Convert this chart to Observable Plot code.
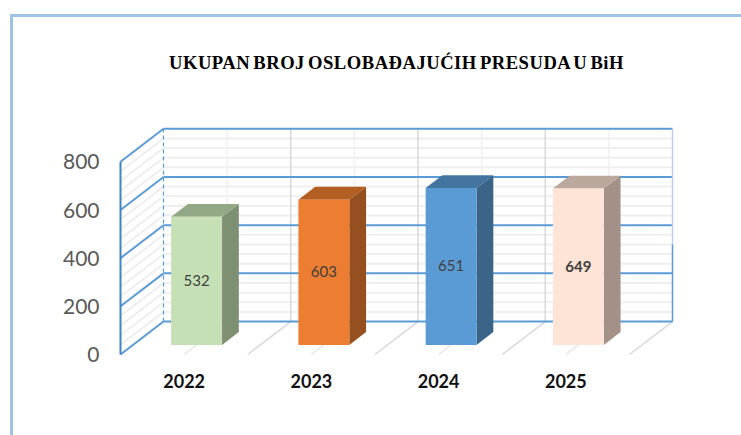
<!DOCTYPE html>
<html>
<head>
<meta charset="utf-8">
<script src="https://cdn.jsdelivr.net/npm/d3@7"></script>
<script src="https://cdn.jsdelivr.net/npm/@observablehq/plot@0.6"></script>
<style>
html,body{margin:0;padding:0;background:#fff;overflow:hidden}
#wrap{position:relative;width:741px;height:435px}
#frame{position:absolute;left:10px;top:14px;right:0;bottom:0;border-left:3.5px solid #9dc3e6;border-top:3.5px solid #9dc3e6;box-sizing:border-box}
#wrap svg{position:absolute;left:0;top:0}
.chart-title text{word-spacing:-2px;letter-spacing:.5px}
</style>
</head>
<body>
<div id="wrap"><div id="frame"></div></div>
<script>
const title = "UKUPAN BROJ OSLOBAĐAJUĆIH PRESUDA U BiH";
const years = ["2022", "2023", "2024", "2025"];
const values = [532, 603, 651, 649];
const yTicks = [0, 200, 400, 600, 800];
const minorTicks = d3.range(0, 801, 40).filter(v => v % 200 !== 0);
const frontColors = ["#c5e0b4", "#ed7d31", "#5b9bd5", "#fde4d6"];
const sideColors = ["#7f8f72", "#96501f", "#3a6488", "#a39087"];
const topColors = ["#93a885", "#b35e22", "#4475a1", "#bba89d"];
const labelWeights = ["normal", "normal", "normal", "bold"];

// oblique depth of the chart box, in x-category and y-value units
const depthX = 0.338, depthY = 136.8;
const zFront = 0.29, zBack = 0.68, barHalf = 0.2;
const px = (c, z) => c + z * depthX;
const py = (v, z) => v + z * depthY;
const slots = d3.range(years.length + 1);
const halves = d3.range(0.5, years.length, 1);
const yMax = 800;

const seg = (c1, v1, z1, c2, v2, z2) => ({x1: px(c1, z1), y1: py(v1, z1), x2: px(c2, z2), y2: py(v2, z2)});
const link = (data, options) => Plot.link(data, {x1: "x1", y1: "y1", x2: "x2", y2: "y2", ...options});

const nC = years.length;
const wallMinor = minorTicks.map(v => seg(0, v, 1, nC, v, 1));
const wallMajor = yTicks.map(v => seg(0, v, 1, nC, v, 1));
const sideMinor = minorTicks.map(v => seg(0, v, 0, 0, v, 1));
const sideMajor = yTicks.map(v => seg(0, v, 0, 0, v, 1));
const vertMajor = slots.slice(1, -1).map(c => seg(c, 0, 1, c, yMax, 1));
const vertMinor = halves.map(c => seg(c, 0, 1, c, yMax, 1));
const floorMajor = slots.slice(1).map(c => seg(c, 0, 0, c, 0, 1));
const floorMinor = halves.map(c => seg(c, 0, 0, c, 0, 1));

function faces(i) {
  const v = values[i], a = i + 0.5 - barHalf, b = i + 0.5 + barHalf;
  const poly = (id, fill, pts) => pts.map(([c, w, z]) => ({id, fill, x: px(c, z), y: py(w, z)}));
  return [
    ...poly("side" + i, sideColors[i], [[b, 0, zFront], [b, 0, zBack], [b, v, zBack], [b, v, zFront]]),
    ...poly("top" + i, topColors[i], [[a, v, zFront], [b, v, zFront], [b, v, zBack], [a, v, zBack]]),
    ...poly("front" + i, frontColors[i], [[a, 0, zFront], [b, 0, zFront], [b, v, zFront], [a, v, zFront]])
  ];
}
const barPolys = years.flatMap((_, i) => faces(i));
const labels = values.map((v, i) => ({x: px(i + 0.5, zFront), y: py(v / 2, zFront), t: String(v), w: labelWeights[i]}));
const cats = years.map((t, i) => ({x: i + 0.5, t}));
const blue = "#5b9bd5";

const chart = Plot.plot({
  width: 741,
  height: 435,
  marginTop: 128.3,
  marginBottom: 81,
  marginLeft: 120,
  marginRight: 69,
  style: {background: "transparent", overflow: "visible"},
  x: {domain: [0, nC + depthX], axis: null},
  y: {domain: [0, yMax + depthY], axis: null},
  marks: [
    link(wallMinor, {stroke: "#efefef", strokeWidth: 2}),
    link(sideMinor, {stroke: "#efefef", strokeWidth: 2}),
    link(vertMinor, {stroke: "#f0f0f0", strokeWidth: 1.5}),
    link(vertMajor, {stroke: "#d9d9d9", strokeWidth: 1.5}),
    link(floorMinor, {stroke: "#e6e6e6", strokeWidth: 1.5}),
    link(floorMajor, {stroke: "#d9d9d9", strokeWidth: 1.5}),
    link(wallMajor, {stroke: blue, strokeWidth: 2}),
    link(sideMajor, {stroke: blue, strokeWidth: 2}),
    link([seg(0, 0, 1, 0, yMax, 1)], {stroke: blue, strokeWidth: 1.2, strokeDasharray: "4,3"}),
    link([seg(0, 0, 0, 0, yMax, 0)], {stroke: "#3f85c6", strokeWidth: 2}),
    link([seg(nC, 320, 1, nC, yMax, 1)], {stroke: "#bdd0e4", strokeWidth: 1.5}),
    link([seg(nC, 0, 1, nC, 320, 1)], {stroke: "#5b9bd5", strokeWidth: 1.5}),
    Plot.line(barPolys, {x: "x", y: "y", z: "id", fill: "fill", stroke: null}),
    Plot.text(labels.filter(d => d.w === "normal"), {x: "x", y: "y", text: "t", fontSize: 15, fill: "#404040", fontFamily: "Lato"}),
    Plot.text(labels.filter(d => d.w === "bold"), {x: "x", y: "y", text: "t", fontSize: 15, fontWeight: "bold", fill: "#404040", fontFamily: "Lato"}),
    Plot.text(cats, {x: "x", y: 0, text: "t", dy: 28, fontSize: 18, fontWeight: "bold", fill: "#111", fontFamily: "Lato"}),
    Plot.axisY({ticks: yTicks, tickSize: 0, tickPadding: 21, fontSize: 21, fill: "#595959", fontFamily: "Lato", label: null, dy: 1}),
    Plot.text([title], {frameAnchor: "top", dy: -73, fontSize: 18.6, fontWeight: "bold", fill: "#000", fontFamily: "Liberation Serif", className: "chart-title"})
  ]
});
document.getElementById("wrap").appendChild(chart);
</script>
</body>
</html>
